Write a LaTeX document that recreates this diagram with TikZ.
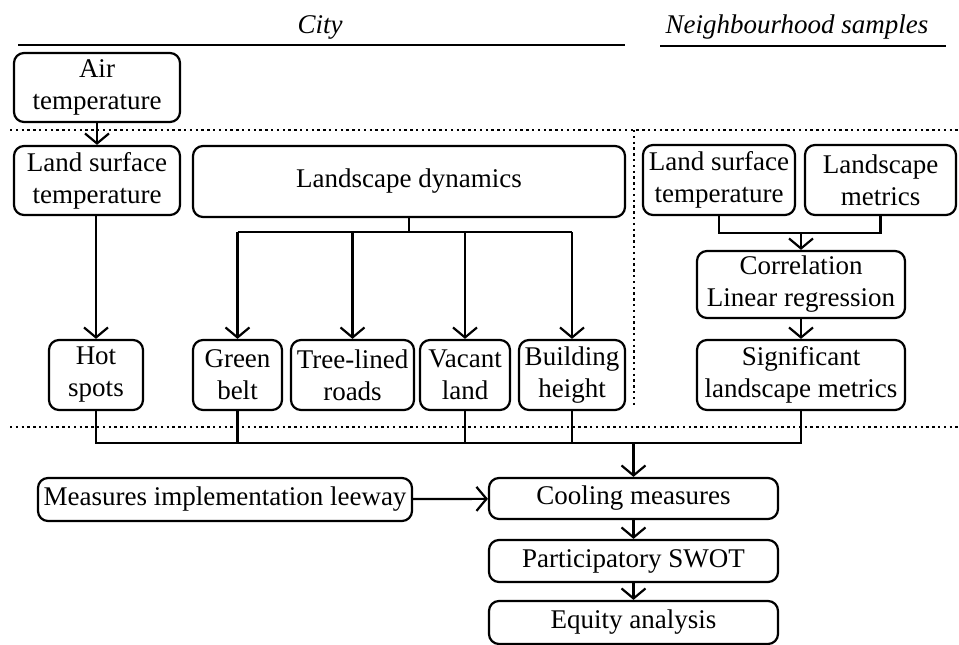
\documentclass[tikz,border=0pt]{standalone}
\usepackage{fontspec}
\setmainfont{Liberation Serif}
\usetikzlibrary{arrows.meta}
\begin{document}
\begin{tikzpicture}[x=1pt,y=-1pt,
  font=\fontsize{27}{32}\selectfont,
  box/.style={draw, line width=2.2pt, rounded corners=10pt, inner sep=0pt, align=center},
  conn/.style={line width=2.2pt},
  arr/.style={conn, -{Straight Barb[length=10pt,width=24pt,line width=2.2pt]}},
  dots/.style={line width=2.6pt, dash pattern=on 2.4pt off 3.4pt}]
\useasboundingbox (0,0) rectangle (959,645);
% headers
\node[font=\fontsize{27}{32}\selectfont\itshape] (city) at (320,27) {City};
\node[font=\fontsize{27}{32}\selectfont\itshape] (nbh) at (797,27) {Neighbourhood samples};
\coordinate (c1) at (18,45); \coordinate (c2) at (625,45);
\coordinate (n1) at (660,46); \coordinate (n2) at (946,46);
\draw[conn] (c1) -- (c2);
\draw[conn] (n1) -- (n2);
% dotted separators
\coordinate (d1) at (10,130); \coordinate (d2) at (959,130);
\coordinate (d3) at (634,130); \coordinate (d4) at (634,408);
\coordinate (d5) at (10,427); \coordinate (d6) at (959,427);
\draw[dots] (d1) -- (d2);
\draw[dots] (d3) -- (d4);
\draw[dots] (d5) -- (d6);
% nodes
\node[box, minimum width=166pt, minimum height=69pt] (air) at (97,87.5) {Air\\temperature};
\node[box, minimum width=166pt, minimum height=69pt] (lstL) at (97,180.5) {Land surface\\temperature};
\node[box, minimum width=432pt, minimum height=71pt] (ld) at (409,181.5) {Landscape dynamics};
\node[box, minimum width=152pt, minimum height=70pt] (lstR) at (719,180) {Land surface\\temperature};
\node[box, minimum width=151pt, minimum height=70pt] (lm) at (880.5,180) {Landscape\\metrics};
\node[box, minimum width=208pt, minimum height=67pt] (corr) at (801,284.5) {Correlation\\Linear regression};
\node[box, minimum width=208pt, minimum height=70pt] (sig) at (801,375) {Significant\\landscape metrics};
\node[box, minimum width=94pt, minimum height=70pt] (hot) at (96,375) {Hot\\spots};
\node[box, minimum width=89pt, minimum height=70pt] (green) at (237.5,375) {Green\\belt};
\node[box, minimum width=123pt, minimum height=70pt] (tree) at (352.5,375) {Tree-lined\\roads};
\node[box, minimum width=90pt, minimum height=70pt] (vacant) at (465,375) {Vacant\\land};
\node[box, minimum width=106pt, minimum height=70pt] (build) at (572,375) {Building\\height};
\node[box, minimum width=374pt, minimum height=43pt] (mil) at (225,499.5) {Measures implementation leeway};
\node[box, minimum width=289pt, minimum height=41pt] (cool) at (633.5,498.5) {Cooling measures};
\node[box, minimum width=289pt, minimum height=42pt] (swot) at (633.5,561) {Participatory SWOT};
\node[box, minimum width=289pt, minimum height=43pt] (eq) at (633.5,622.5) {Equity analysis};
% connectors
\draw[arr] (air) -- (lstL);
\draw[arr] (lstL.south -| hot.north) -- (hot.north);
\coordinate (ldj) at (409,232);
\draw[conn] (ld.south) -- (ldj);
\draw[conn] (green.north |- ldj) -- (build.north |- ldj);
\draw[arr] (green.north |- ldj) -- (green.north);
\draw[arr] (tree.north |- ldj) -- (tree.north);
\draw[arr] (vacant.north |- ldj) -- (vacant.north);
\draw[arr] (build.north |- ldj) -- (build.north);
\coordinate (rj) at (800,233);
\draw[conn] (lstR.south) -- (lstR.south |- rj) -- (lm.south |- rj) -- (lm.south);
\draw[arr] (corr.north |- rj) -- (corr.north);
\draw[arr] (corr) -- (sig);
\coordinate (col) at (633.5,443);
\draw[conn] (hot.south) -- (hot.south |- col) -- (sig.south |- col) -- (sig.south);
\draw[conn] (green.south) -- (green.south |- col);
\draw[conn] (vacant.south) -- (vacant.south |- col);
\draw[conn] (build.south) -- (build.south |- col);
\draw[arr] (col) -- (cool.north);
\draw[arr] (mil) -- (cool);
\draw[arr] (cool) -- (swot);
\draw[arr] (swot) -- (eq);
\end{tikzpicture}
\end{document}
